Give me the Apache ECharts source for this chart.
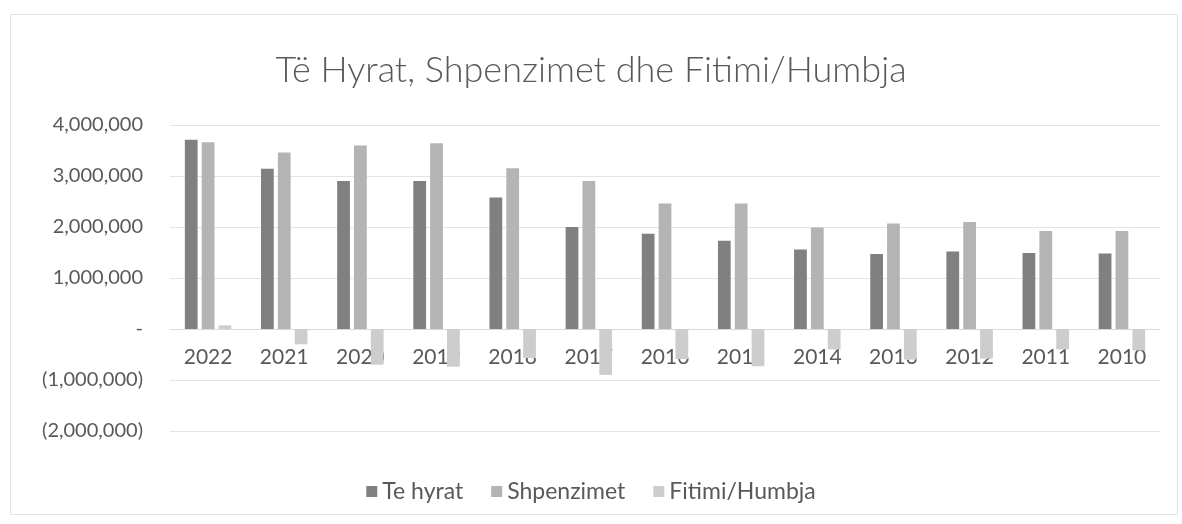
<!DOCTYPE html>
<html>
<head>
<meta charset="utf-8">
<script src="https://cdn.jsdelivr.net/npm/echarts@6/dist/echarts.min.js"></script>
<style>
html,body{margin:0;padding:0;background:#fff;}
#chart{width:1182px;height:524px;}
</style>
</head>
<body>
<div id="chart"></div>
<script>
// data
var years = ['2022','2021','2020','2019','2018','2017','2016','2015','2014','2013','2012','2011','2010'];
var teHyrat = [3710000,3140000,2900000,2900000,2580000,2000000,1870000,1730000,1560000,1470000,1520000,1490000,1480000];
var shpenzimet = [3660000,3460000,3600000,3640000,3150000,2900000,2460000,2460000,1990000,2070000,2100000,1920000,1920000];
var fitimi = [70000,-300000,-700000,-740000,-570000,-900000,-590000,-730000,-400000,-600000,-580000,-400000,-420000];
var seriesNames = ['Te hyrat','Shpenzimet','Fitimi/Humbja'];

function fmtNum(v){
    if(v==0){return '-';}
    var s = Math.abs(v).toString().replace(/\B(?=(\d{3})+(?!\d))/g, ',');
    return v<0 ? '(' + s + ')' : s;
}

var dom = document.getElementById('chart');
var myChart = echarts.init(dom);
var txt = '#595959', font = 'Lato';

var option = {
    animation: false,
    backgroundColor: '#fff',
    title: {
        text: 'Të Hyrat, Shpenzimet dhe Fitimi/Humbja',
        left: 'center', top: 47,
        textStyle: {color: txt, fontFamily: font, fontSize: 36, fontWeight: 300}
    },
    legend: {
        data: seriesNames,
        top: 475, left: 'center',
        itemWidth: 11, itemHeight: 11, itemGap: 28,
        icon: 'rect',
        textStyle: {color: txt, fontFamily: font, fontSize: 23}
    },
    graphic: [{
        type: 'rect', left: 8, top: 12,
        shape: {width: 1167, height: 500},
        style: {fill: 'none', stroke: '#e2e2e2', lineWidth: 1}, silent: true
    }],
    grid: {left: 170, right: 22, top: 125, bottom: 93},
    xAxis: {
        type: 'category',
        data: years,
        offset: -102,
        axisLine: {lineStyle: {color: '#d9d9d9'}},
        axisTick: {show: false},
        axisLabel: {color: txt, fontFamily: font, fontSize: 21, margin: 18}
    },
    yAxis: {
        type: 'value',
        min: -2000000, max: 4000000, interval: 1000000,
        axisLine: {show: false},
        axisTick: {show: false},
        axisLabel: {color: txt, fontFamily: font, fontSize: 20, margin: 27, formatter: fmtNum},
        splitLine: {show: true, lineStyle: {color: '#e4e4e4'}}
    },
    series: [
        {name: seriesNames[0], type: 'bar', data: teHyrat, barGap: '32%', barCategoryGap: '39%', itemStyle: {color: '#808080'}},
        {name: seriesNames[1], type: 'bar', data: shpenzimet, itemStyle: {color: '#b4b4b4'}},
        {name: seriesNames[2], type: 'bar', data: fitimi, itemStyle: {color: '#cdcdcd'}}
    ]
};
myChart.setOption(option, true);
</script>
</body>
</html>
